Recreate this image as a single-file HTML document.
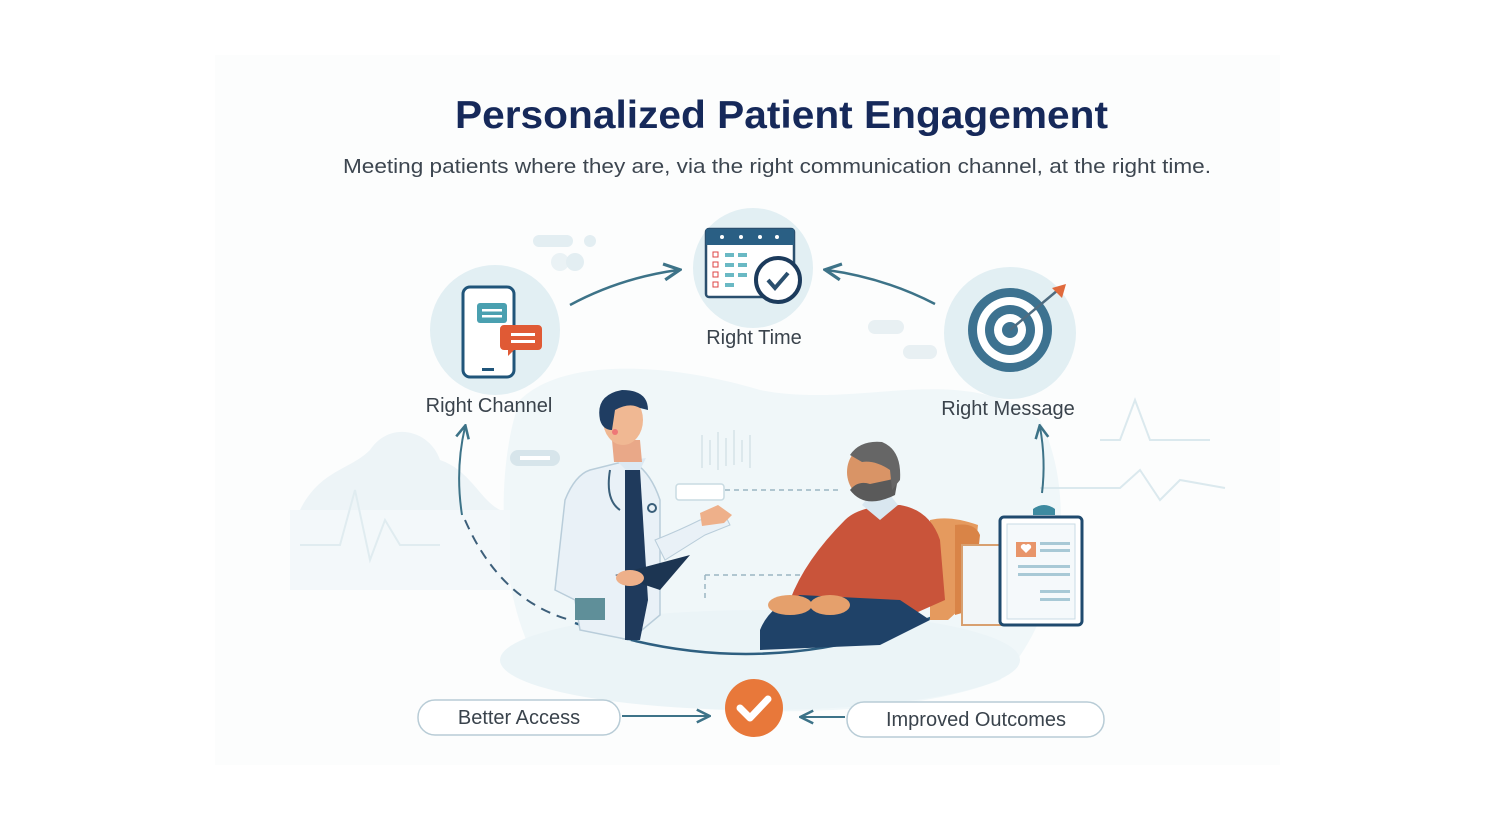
<!DOCTYPE html>
<html><head><meta charset="utf-8"><style>
html,body{margin:0;padding:0;background:#fff;}
svg{display:block}
</style></head><body>
<svg width="1500" height="818" viewBox="0 0 1500 818" xmlns="http://www.w3.org/2000/svg" font-family="Liberation Sans, sans-serif">
<defs>
<marker id="ah" viewBox="0 0 10 10" refX="8" refY="5" markerWidth="8" markerHeight="8" orient="auto"><path d="M1,1 L9,5 L1,9" fill="none" stroke="#3d7388" stroke-width="1.6"/></marker>
</defs>
<rect x="215" y="55" width="1065" height="710" fill="#fcfdfd"/>
<!-- background blobs -->
<path d="M520,400 C560,360 660,360 760,390 C860,410 960,360 1040,420 C1080,500 1060,620 1000,680 C900,720 700,720 560,690 C500,640 490,480 520,400Z" fill="#f0f7f9"/>
<ellipse cx="760" cy="660" rx="260" ry="50" fill="#ebf4f7"/>
<path d="M300,510 C320,470 350,470 370,450 C390,420 430,430 440,460 C470,470 480,500 500,510 Z" fill="#edf4f7"/>
<rect x="290" y="510" width="220" height="80" fill="#f3f8fa"/>
<polyline points="1100,440 1120,440 1135,400 1150,440 1210,440" fill="none" stroke="#dbe9ee" stroke-width="2"/>
<polyline points="1040,488 1120,488 1140,470 1160,500 1180,480 1225,488" fill="none" stroke="#dbe9ee" stroke-width="2"/>
<polyline points="300,545 340,545 355,490 370,560 385,520 400,545 440,545" fill="none" stroke="#e0ecf0" stroke-width="2"/>
<rect x="533" y="235" width="40" height="12" rx="6" fill="#e3eef2"/><circle cx="590" cy="241" r="6" fill="#e3eef2"/>
<circle cx="560" cy="262" r="9" fill="#eaf2f5"/><circle cx="575" cy="262" r="9" fill="#e3eef2"/>
<rect x="868" y="320" width="36" height="14" rx="7" fill="#e8f0f3"/>
<rect x="903" y="345" width="34" height="14" rx="7" fill="#e8f0f3"/>
<rect x="510" y="450" width="50" height="16" rx="8" fill="#d7e5eb"/><rect x="520" y="456" width="30" height="4" fill="#fff"/>
<!-- Title -->
<text x="455" y="128" textLength="653" lengthAdjust="spacingAndGlyphs" font-size="39" font-weight="bold" fill="#16295a">Personalized Patient Engagement</text>
<text x="343" y="173" textLength="868" lengthAdjust="spacingAndGlyphs" font-size="20" fill="#3d4650">Meeting patients where they are, via the right communication channel, at the right time.</text>
<!-- circles -->
<circle cx="495" cy="330" r="65" fill="#e2eff3"/>
<circle cx="753" cy="268" r="60" fill="#e2eff3"/>
<circle cx="1010" cy="333" r="66" fill="#e2eff3"/>
<!-- phone -->
<rect x="463" y="287" width="51" height="90" rx="7" fill="#fff" stroke="#20557a" stroke-width="3"/>
<rect x="482" y="368" width="12" height="3" fill="#20557a"/>
<rect x="477" y="303" width="30" height="20" rx="3" fill="#4aa0b0"/>
<rect x="482" y="309" width="20" height="2.5" fill="#fff"/><rect x="482" y="315" width="20" height="2.5" fill="#fff"/>
<path d="M504,325 h34 a4,4 0 0 1 4,4 v17 a4,4 0 0 1 -4,4 h-24 l-6,6 v-6 h-4 a4,4 0 0 1 -4,-4 v-17 a4,4 0 0 1 4,-4z" fill="#e05a35"/>
<rect x="511" y="333" width="24" height="3" fill="#fff"/><rect x="511" y="340" width="24" height="3" fill="#fff"/>
<!-- calendar -->
<rect x="706" y="229" width="88" height="68" rx="3" fill="#fff" stroke="#2a4f6e" stroke-width="2.5"/>
<rect x="706" y="229" width="88" height="16" fill="#2a5f84"/>
<g fill="#fff"><circle cx="722" cy="237" r="2"/><circle cx="741" cy="237" r="2"/><circle cx="760" cy="237" r="2"/><circle cx="777" cy="237" r="2"/></g>
<g fill="#6ab9c4"><rect x="725" y="253" width="9" height="4"/><rect x="738" y="253" width="9" height="4"/><rect x="725" y="263" width="9" height="4"/><rect x="738" y="263" width="9" height="4"/><rect x="725" y="273" width="9" height="4"/><rect x="738" y="273" width="9" height="4"/><rect x="725" y="283" width="9" height="4"/></g>
<g fill="none" stroke="#d44" stroke-width="1"><rect x="713" y="252" width="5" height="5"/><rect x="713" y="262" width="5" height="5"/><rect x="713" y="272" width="5" height="5"/><rect x="713" y="282" width="5" height="5"/></g>
<circle cx="778" cy="280" r="22" fill="#fff" stroke="#1c3b5c" stroke-width="4"/>
<path d="M768,280 l7,8 l13,-15" fill="none" stroke="#2a4f6e" stroke-width="4"/>
<!-- target -->
<circle cx="1010" cy="330" r="42" fill="#3d7290"/>
<circle cx="1010" cy="330" r="33" fill="#fff"/>
<circle cx="1010" cy="330" r="25" fill="#3d7290"/>
<circle cx="1010" cy="330" r="16" fill="#fff"/>
<circle cx="1010" cy="330" r="8" fill="#3d7290"/>
<line x1="1010" y1="330" x2="1058" y2="290" stroke="#4f6c80" stroke-width="2.5"/>
<path d="M1052,288 l14,-4 l-4,14 z" fill="#e06a3c"/>
<!-- labels -->
<text x="489" y="412" text-anchor="middle" font-size="20" fill="#3a434c">Right Channel</text>
<text x="754" y="344" text-anchor="middle" font-size="20" fill="#3a434c">Right Time</text>
<text x="1008" y="415" text-anchor="middle" font-size="20" fill="#3a434c">Right Message</text>
<!-- arrows -->
<path d="M570,305 Q620,278 678,270" fill="none" stroke="#3d7388" stroke-width="2.5" marker-end="url(#ah)"/>
<path d="M935,304 Q885,278 827,270" fill="none" stroke="#3d7388" stroke-width="2.5" marker-end="url(#ah)"/>
<path d="M462,515 Q455,470 465,427" fill="none" stroke="#3d7388" stroke-width="2" marker-end="url(#ah)"/>
<path d="M1042,493 Q1046,460 1040,427" fill="none" stroke="#3d7388" stroke-width="2" marker-end="url(#ah)"/>
<path d="M465,520 Q500,600 570,620" fill="none" stroke="#3d5f7a" stroke-width="2" stroke-dasharray="10,7"/>
<path d="M575,623 Q760,690 945,612" fill="none" stroke="#2e5f80" stroke-width="2.5"/>
<!-- dashed lines in scene -->
<path d="M725,490 H840" stroke="#9bb6c2" stroke-width="1.5" stroke-dasharray="5,4"/>
<path d="M705,575 H820 M705,575 V600" stroke="#9bb6c2" stroke-width="1.5" stroke-dasharray="5,4" fill="none"/>
<rect x="676" y="484" width="48" height="16" rx="3" fill="#fff" stroke="#c9dbe2" stroke-width="1.5"/>
<g stroke="#d6e3e8" stroke-width="1.5"><line x1="702" y1="435" x2="702" y2="468"/><line x1="710" y1="440" x2="710" y2="465"/><line x1="718" y1="432" x2="718" y2="470"/><line x1="726" y1="438" x2="726" y2="466"/><line x1="734" y1="430" x2="734" y2="465"/><line x1="742" y1="440" x2="742" y2="462"/><line x1="750" y1="435" x2="750" y2="468"/></g>
<!-- doctor -->
<path d="M590,470 Q575,475 565,500 L555,590 L575,600 L580,630 L630,640 L660,615 L660,500 Q650,470 630,460 Z" fill="#e9f1f7" stroke="#b9cdda" stroke-width="1.5"/>
<path d="M625,470 L640,470 L648,600 L640,640 L625,640 Z" fill="#1f3a5c"/>
<path d="M618,462 L626,470 L640,470 L646,458 Z" fill="#dce9f3"/>
<path d="M612,440 L640,440 L642,462 L614,462 Z" fill="#e9a888"/>
<ellipse cx="623" cy="420" rx="20" ry="25" fill="#f0b893"/>
<path d="M600,420 Q595,395 622,390 Q648,390 648,410 L640,408 Q630,402 615,410 L612,430 Q603,430 600,420Z" fill="#1f3d62"/>
<circle cx="615" cy="432" r="3" fill="#e77"/>
<path d="M655,540 Q680,530 700,520 L725,515 L730,525 L705,535 L665,560 Z" fill="#e9f1f7" stroke="#b9cdda"/>
<path d="M700,513 l18,-8 l14,10 l-8,8 l-22,3 Z" fill="#eeb08a"/>
<path d="M615,575 L690,555 L660,590 Z" fill="#1c3552"/>
<ellipse cx="630" cy="578" rx="14" ry="8" fill="#eeb08a"/>
<rect x="575" y="598" width="30" height="22" fill="#5f8f99"/>
<path d="M610,470 Q605,500 620,510" fill="none" stroke="#3a5f7a" stroke-width="2"/>
<circle cx="652" cy="508" r="4" fill="none" stroke="#3a5f7a" stroke-width="2"/>
<!-- chair -->
<path d="M930,520 Q950,515 978,525 L970,600 L948,620 L930,620 Z" fill="#e59a5e"/>
<path d="M955,525 Q975,522 980,535 L972,610 L955,615 Z" fill="#d98447"/>
<!-- patient -->
<path d="M845,520 Q860,505 900,505 Q930,510 940,540 L945,600 L900,620 L820,620 L790,600 Q805,560 845,520Z" fill="#c9543a"/>
<path d="M862,505 L880,520 L898,505 L890,495 L870,495Z" fill="#d9e7f0"/>
<path d="M760,630 Q770,605 800,595 L900,600 L930,620 L880,645 L760,650 Z" fill="#1f4268"/>
<ellipse cx="790" cy="605" rx="22" ry="10" fill="#e5a06c"/>
<ellipse cx="830" cy="605" rx="20" ry="10" fill="#e5a06c"/>
<ellipse cx="872" cy="472" rx="25" ry="28" fill="#d99466"/>
<path d="M850,490 Q865,510 895,495 L898,478 L870,484 Q858,480 850,490Z" fill="#5a5a5a"/>
<path d="M850,455 Q860,440 882,442 Q902,450 900,480 L892,490 L890,470 Q875,460 862,462 Z" fill="#666"/>
<!-- clipboard -->
<rect x="962" y="545" width="42" height="80" fill="#f2f6f8" stroke="#d8a070" stroke-width="2"/>
<rect x="1000" y="517" width="82" height="108" rx="4" fill="#fff" stroke="#1f4a6e" stroke-width="3"/>
<rect x="1007" y="524" width="68" height="95" fill="#f5f9fb" stroke="#c9dbe4"/>
<path d="M1033,515 h22 v-6 q-11,-8 -22,0 z" fill="#3d8aa0"/>
<rect x="1016" y="542" width="20" height="15" fill="#e8956a"/>
<path d="M1026,553 l-5,-5 a3,3 0 0 1 5,-3 a3,3 0 0 1 5,3 z" fill="#fff"/>
<g fill="#a8c9d6"><rect x="1040" y="542" width="30" height="3"/><rect x="1040" y="549" width="30" height="3"/><rect x="1018" y="565" width="52" height="3"/><rect x="1018" y="573" width="52" height="3"/><rect x="1040" y="590" width="30" height="3"/><rect x="1040" y="598" width="30" height="3"/></g>
<!-- bottom -->
<rect x="418" y="700" width="202" height="35" rx="17" fill="#fff" stroke="#b8ccd6" stroke-width="1.5"/>
<text x="519" y="724" text-anchor="middle" font-size="20" fill="#3a434c">Better Access</text>
<rect x="847" y="702" width="257" height="35" rx="17" fill="#fff" stroke="#b8ccd6" stroke-width="1.5"/>
<text x="976" y="726" text-anchor="middle" font-size="20" fill="#3a434c">Improved Outcomes</text>
<line x1="622" y1="716" x2="708" y2="716" stroke="#3d7388" stroke-width="2" marker-end="url(#ah)"/>
<line x1="845" y1="717" x2="802" y2="717" stroke="#3d7388" stroke-width="2" marker-end="url(#ah)"/>
<circle cx="754" cy="708" r="29" fill="#e8783a"/>
<path d="M740,708 l10,10 l18,-19" fill="none" stroke="#fff" stroke-width="7" stroke-linecap="round" stroke-linejoin="round"/>
</svg>
</body></html>
